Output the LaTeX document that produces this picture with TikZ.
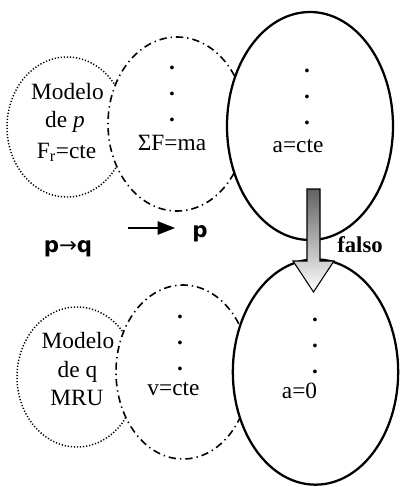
\documentclass[tikz,border=0pt]{standalone}
\usepackage{fontspec}
\setmainfont{Liberation Serif}
\newfontfamily\dvsans{DejaVu Sans}
\usetikzlibrary{shapes.geometric,arrows.meta}
\begin{document}
\begin{tikzpicture}[x=0.75pt,y=-0.75pt,
  dotell/.style={ellipse, draw, fill=white, inner sep=0, line width=1.1pt, dash pattern=on 0.9pt off 1.4pt},
  dashell/.style={ellipse, draw, fill=white, inner sep=0, line width=1.2pt, dash pattern=on 5.5pt off 3pt on 1pt off 3pt},
  solidell/.style={ellipse, draw, fill=white, inner sep=0, line width=1.7pt},
  txt/.style={font=\fontsize{17.5}{20}\selectfont, inner sep=0, anchor=base},
  dottxt/.style={font=\bfseries\fontsize{17.5}{20}\selectfont, inner sep=0, anchor=base},
  sanstxt/.style={font=\dvsans\bfseries\fontsize{16}{19}\selectfont, inner sep=0, anchor=base},
  boldtxt/.style={font=\bfseries\fontsize{17}{20}\selectfont, inner sep=0, anchor=base},
  blockarrow/.style={draw, line width=0.8pt, top color=black!62, bottom color=white},
  linearrow/.style={-{Triangle[length=13pt,width=10pt]}, line width=1.1pt}
]
\useasboundingbox (0,0) rectangle (400,487);

% top row ellipses
\node[dotell, minimum width=90pt, minimum height=105pt] (pdot) at (67,127) {};
\node[dashell, minimum width=103.5pt, minimum height=130.5pt] (pdash) at (177,124) {};
\node[solidell, minimum width=124.5pt, minimum height=171pt] (psol) at (310,126) {};

% bottom row ellipses
\node[dotell, minimum width=90pt, minimum height=105pt] (qdot) at (77,377) {};
\node[dashell, minimum width=100.5pt, minimum height=130.5pt] (qdash) at (183,372) {};
\node[solidell, minimum width=124pt, minimum height=169pt] (qsol) at (315.5,372) {};

% top texts
\node[txt] (pm1) at (67.5,99) {Modelo};
\node[txt] (pm2) at (65,127) {de \textit{p}};
\node[txt] (pm3) at (66.5,158) {F\textsubscript{r}=cte};
\node[dottxt] (pd1) at (172,69) {.};
\node[dottxt] (pd2) at (172,95) {.};
\node[dottxt] (pd3) at (172,121) {.};
\node[txt] (pd4) at (172,150) {ΣF=ma};
\node[dottxt] (ps1) at (307,72) {.};
\node[dottxt] (ps2) at (307,98) {.};
\node[dottxt] (ps3) at (307,124) {.};
\node[txt] (ps4) at (298,152) {a=cte};

% bottom texts
\node[txt] (qm1) at (78,348) {Modelo};
\node[txt] (qm2) at (77.5,377) {de q};
\node[txt] (qm3) at (77,405) {MRU};
\node[dottxt] (qd1) at (180,318) {.};
\node[dottxt] (qd2) at (180,344) {.};
\node[dottxt] (qd3) at (180,370) {.};
\node[txt] (qd4) at (173.5,395) {v=cte};
\node[dottxt] (qs1) at (315,321) {.};
\node[dottxt] (qs2) at (315,347) {.};
\node[dottxt] (qs3) at (315,373) {.};
\node[txt] (qs4) at (299.5,398) {a=0};

% middle labels
\coordinate (ar1) at (128,228);
\coordinate (ar2) at (175,228);
\draw[linearrow] (ar1) -- (ar2);
\node[sanstxt] (plab) at (200,237) {p};
\node[sanstxt] (pqlab) at (68,252) {p{\mdseries →}q};
\node[boldtxt] (falso) at (360,252) {falso};

% block arrow
\coordinate (ba1) at (307,189);
\coordinate (ba2) at (320,189);
\coordinate (ba3) at (320,261);
\coordinate (ba4) at (334,261);
\coordinate (ba5) at (313.5,292);
\coordinate (ba6) at (293,261);
\coordinate (ba7) at (307,261);
\path[blockarrow] (ba1) -- (ba2) -- (ba3) -- (ba4) -- (ba5) -- (ba6) -- (ba7) -- cycle;
\end{tikzpicture}
\end{document}
